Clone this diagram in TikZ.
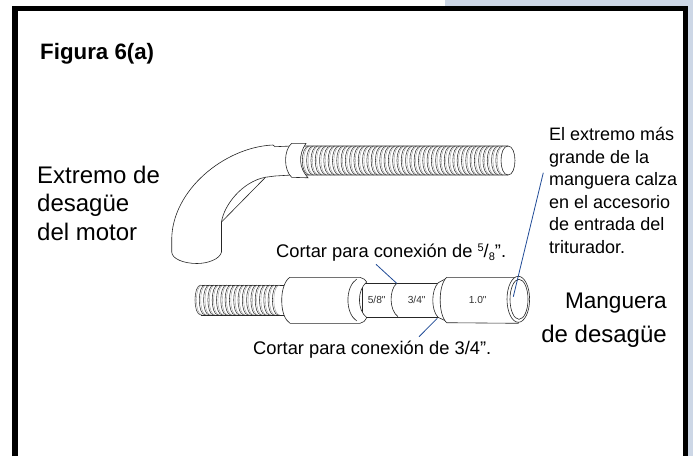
\documentclass[tikz,border=0pt]{standalone}
\usepackage{fontspec}
\setmainfont{Liberation Sans}
\newfontfamily\sizefont{Liberation Sans}
\usetikzlibrary{positioning,calc}
\definecolor{panelblue}{HTML}{CDD7E6}
\definecolor{leaderblue}{HTML}{1F4A96}
\newcommand{\sz}[1]{\fontsize{#1}{#1}\selectfont}

\begin{document}
\begin{tikzpicture}[x=1pt,y=-1pt,
        frameline/.style={line width=5.5pt,line join=miter},
        hose/.style={line width=0.6pt,draw=black!85,fill=white},
        ring/.style={line width=0.55pt,draw=black!80},
        ringshade/.style={line width=0.4pt,draw=black!40},
        leader/.style={line width=0.8pt,draw=leaderblue},
        big/.style={anchor=base west,inner sep=0pt,font=\sz{24}},
        mid/.style={anchor=base west,inner sep=0pt,font=\sz{18}},
        cutlabel/.style={anchor=base west,inner sep=0pt,font=\sz{18.3}},
        size/.style={inner sep=0pt,font=\sizefont\sz{10.2},text=black!80},
    ]
    \useasboundingbox (0,0) rectangle (693,456);

    % page edge and frame
    \fill[panelblue] (445,0) rectangle (693,6);
    \fill[panelblue] (688,0) rectangle (693,456);
    \draw[frameline] (15,456) -- (15,8.7) -- (685.4,8.7) -- (685.4,456);

    % elbow
    \draw[hose] (171.7,252) -- (171.7,240) .. controls (171.7,190) and (225,147) .. (273,145)
        -- (275,146.7) -- (292,146) -- (292,175) -- (275,176) -- (265,177.3)
        .. controls (242,182) and (224,205) .. (221.5,222) -- (221.5,252)
        .. controls (220,259) and (208,263.5) .. (197,263.5)
        .. controls (184,263.5) and (172,259) .. (171.7,252);
    \draw[hose,fill=none] (221.5,222) -- (265.5,177.3);

    % upper corrugated hose
    \draw[hose] (305,146) -- (508,146) .. controls (517.3,146) and (517.3,175) .. (508,175) -- (305,175);
    \foreach \xa in {0,...,46} {
        \draw[ring] ({305+\xa*4.3},175) .. controls ({295.7+\xa*4.3},175) and ({295.7+\xa*4.3},146) .. ({305+\xa*4.3},146);
        \draw[ringshade] ({306.4+\xa*4.3},175) .. controls ({297.1+\xa*4.3},175) and ({297.1+\xa*4.3},146) .. ({306.4+\xa*4.3},146);
    }
    \draw[hose,fill=none] (508,146) .. controls (498.7,146) and (498.7,175) .. (508,175);

    % collar of the elbow
    \draw[hose] (291.7,143.3) -- (306,143.3) .. controls (298,155) and (299,168) .. (308,177.8)
        -- (291.7,177.3) .. controls (283.5,170) and (283.5,150) .. (291.7,143.3);

    % lower corrugated hose
    \draw[hose] (201,285) -- (285,285) -- (285,315) -- (201,315);
    \foreach \xa in {0,...,18} {
        \draw[ring] ({201+\xa*4.3},315) .. controls ({193+\xa*4.3},315) and ({193+\xa*4.3},285) .. ({201+\xa*4.3},285);
        \draw[ringshade] ({202.4+\xa*4.3},315) .. controls ({194.4+\xa*4.3},315) and ({194.4+\xa*4.3},285) .. ({202.4+\xa*4.3},285);
    }

    % stepped sections, thin to wide
    \draw[hose] (362,283.3) -- (440,283.3) -- (440,317.3) -- (362,317.3) -- cycle;
    \draw[hose,fill=none] (396.7,283.3) .. controls (389,290) and (389,310) .. (398,316.7);
    \draw[hose] (290,277.3) -- (360,277.3) .. controls (363,278) and (366,280) .. (366.7,282)
        .. controls (357,290) and (357,310) .. (366.7,317.5)
        .. controls (365,321) and (363,323) .. (360,323.3) -- (290,323.3)
        .. controls (285,320) and (281.7,312) .. (281.7,300)
        .. controls (281.7,290) and (285,280) .. (290,277.3);
    \draw[hose,fill=none] (356.7,279) .. controls (345,287) and (345,313) .. (356.7,321);
    \draw[hose] (438.3,282.7) -- (446,278.5) -- (446,321) -- (438,317.3)
        .. controls (431,310) and (431,290) .. (438.3,282.7);
    \draw[hose] (446.7,277.3) -- (518.3,277.3) -- (518.3,323.3) -- (446.7,322.7)
        .. controls (438,315) and (438,285) .. (446.7,277.3);

    % open end of the wide section
    \draw[hose] (518.3,299.3) ellipse [x radius=11.3,y radius=23];
    \draw[hose,fill=none] (519,299.3) ellipse [x radius=9,y radius=20];

    % leaders
    \coordinate (cutfive) at (396.7,283.3);
    \coordinate (cutfivetext) at (376,264.3);
    \coordinate (cutthree) at (437.3,318.3);
    \coordinate (cutthreetext) at (419,336.7);
    \coordinate (mouth) at (513.3,296.7);
    \coordinate (mouthtext) at (543.3,172.7);
    \draw[leader] (cutfivetext) -- (cutfive);
    \draw[leader] (cutthreetext) -- (cutthree);
    \draw[leader] (mouth) -- (mouthtext);

    % labels
    \node[anchor=base west,inner sep=0pt,font=\bfseries\sz{22.3}] (title) at (40,59) {Figura 6(a)};
    \node[big] (motor1) at (37,183) {Extremo de};
    \node[big] (motor2) at (37,211.7) {desagüe};
    \node[big] (motor3) at (37,240.7) {del motor};
    \node[big,anchor=base east,font=\sz{22.6}] (drain1) at (667,308) {Manguera};
    \node[big,anchor=base east] (drain2) at (667,342) {de desagüe};

    \node[mid] (end1) at (549,140.7) {El extremo más};
    \node[mid] (end2) at (549,163) {grande de la};
    \node[mid] (end3) at (549,185.5) {manguera calza};
    \node[mid] (end4) at (549,208) {en el accesorio};
    \node[mid] (end5) at (549,230.7) {de entrada del};
    \node[mid] (end6) at (549,253) {triturador.};

    \node[cutlabel] (cuta) at (276,257) {Cortar para conexión de \raisebox{6pt}{\sz{11}5}/\raisebox{-3.5pt}{\sz{11}8}”.};
    \node[cutlabel] (cutb) at (253,354) {Cortar para conexión de 3/4”.};

    \node[size] (five) at (376.7,299.5) {5/8"};
    \node[size] (three) at (416.7,299.5) {3/4"};
    \node[size] (one) at (477.7,300) {1.0"};
\end{tikzpicture}
\end{document}
